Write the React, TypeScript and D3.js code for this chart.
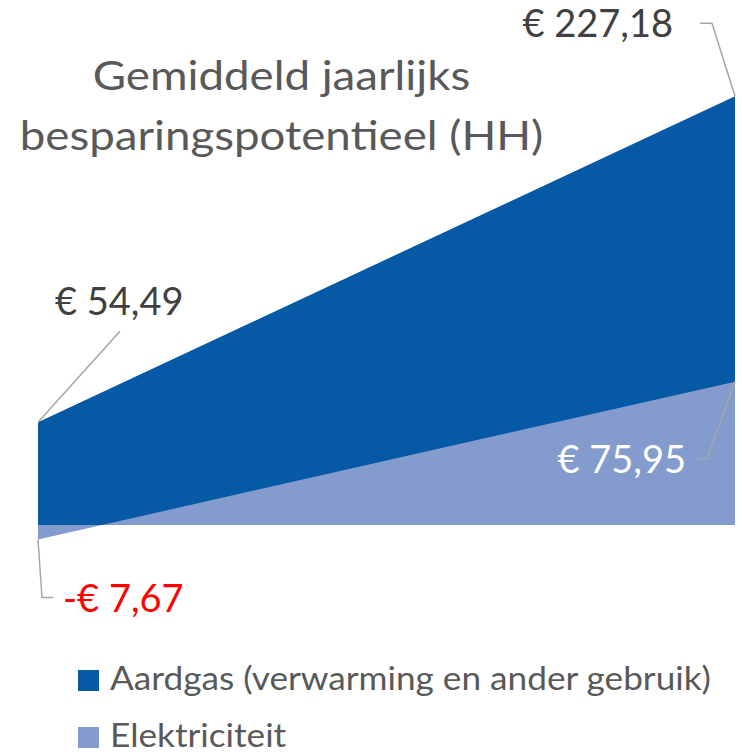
import React from "react";
import * as d3 from "d3";

const categories = ["start", "eind"];
const aardgas = [54.49, 227.18];
const elektriciteit = [-7.67, 75.95];
const aardgasLabels = ["€ 54,49", "€ 227,18"];
const elektriciteitLabels = ["-€ 7,67", "€ 75,95"];
const titleLines = ["Gemiddeld jaarlijks", "besparingspotentieel (HH)"];
const legendItems = ["Aardgas (verwarming en ander gebruik)", "Elektriciteit"];

const DARK = "#0559a5";
const LIGHT = "#849bcd";
const GREY = "#595959";
const LEADER = "#a6a6a6";
const FONT = "Lato, 'Open Sans', sans-serif";

export default function App() {
  const x = d3.scalePoint<string>().domain(categories).range([38, 735]);
  const zero = 525;
  const pxPerUnit = 1.887;
  const y = d3
    .scaleLinear()
    .domain([-40, 250])
    .range([zero + 40 * pxPerUnit, zero - 250 * pxPerUnit]);

  const gasData = categories.map((c, i) => ({ c, v: aardgas[i] }));
  const elData = categories.map((c, i) => ({ c, v: elektriciteit[i] }));

  const area = d3
    .area<{ c: string; v: number }>()
    .x((d) => x(d.c) as number)
    .y0(() => y(0))
    .y1((d) => y(d.v));

  const gx0 = x(categories[0]) as number;
  const gx1 = x(categories[1]) as number;
  const gy0 = y(aardgas[0]);
  const gy1 = y(aardgas[1]);
  const ey0 = y(elektriciteit[0]);
  const ey1 = y(elektriciteit[1]);

  return (
    <svg
      width={742}
      height={755}
      style={{ position: "absolute", left: 0, top: 0, background: "#fff" }}
    >
      <path d={area(gasData) || ""} fill={DARK} />
      <path d={area(elData) || ""} fill={LIGHT} />

      {/* title */}
      {titleLines.map((t, i) => (
        <g key={t} transform={`translate(281.5, ${90 + i * 60}) scale(1.1, 1)`}>
          <text textAnchor="middle" fontFamily={FONT} fontSize={41.5} fill={GREY}>
            {t}
          </text>
        </g>
      ))}

      {/* leader lines */}
      <polyline
        points={`${gx0},${gy0} ${gx0 + 82},${gy0 - 91}`}
        fill="none"
        stroke={LEADER}
        strokeWidth={1.5}
      />
      <polyline
        points={`${gx1},${gy1} ${gx1 - 23},${gy1 - 73} ${gx1 - 35},${gy1 - 73}`}
        fill="none"
        stroke={LEADER}
        strokeWidth={1.5}
      />
      <polyline
        points={`${gx1},${ey1} ${gx1 - 28},${ey1 + 77} ${gx1 - 38},${ey1 + 77}`}
        fill="none"
        stroke={LEADER}
        strokeWidth={1.5}
      />
      <polyline
        points={`${gx0},${ey0} ${gx0 + 4},${ey0 + 58} ${gx0 + 15},${ey0 + 58}`}
        fill="none"
        stroke={LEADER}
        strokeWidth={1.5}
      />

      {/* value labels */}
      <text x={55} y={gy0 - 107} fontFamily={FONT} fontSize={38} fill="#404040">
        {aardgasLabels[0]}
      </text>
      <text
        x={gx1 - 62}
        y={gy1 - 59}
        textAnchor="end"
        fontFamily={FONT}
        fontSize={38}
        fill="#404040"
      >
        {aardgasLabels[1]}
      </text>
      <text
        x={gx1 - 49}
        y={ey1 + 91}
        textAnchor="end"
        fontFamily={FONT}
        fontSize={38}
        fill="#ffffff"
      >
        {elektriciteitLabels[1]}
      </text>
      <text x={63} y={ey0 + 73} fontFamily={FONT} fontSize={38} fill="#ff0000">
        {elektriciteitLabels[0]}
      </text>

      {/* legend */}
      {legendItems.map((name, i) => (
        <g key={name} transform={`translate(78, ${670 + i * 57})`}>
          <rect width={21} height={21} fill={i === 0 ? DARK : LIGHT} />
          <g transform="translate(32, 20) scale(1.1, 1)">
            <text fontFamily={FONT} fontSize={32} fill={GREY}>
              {name}
            </text>
          </g>
        </g>
      ))}
    </svg>
  );
}
